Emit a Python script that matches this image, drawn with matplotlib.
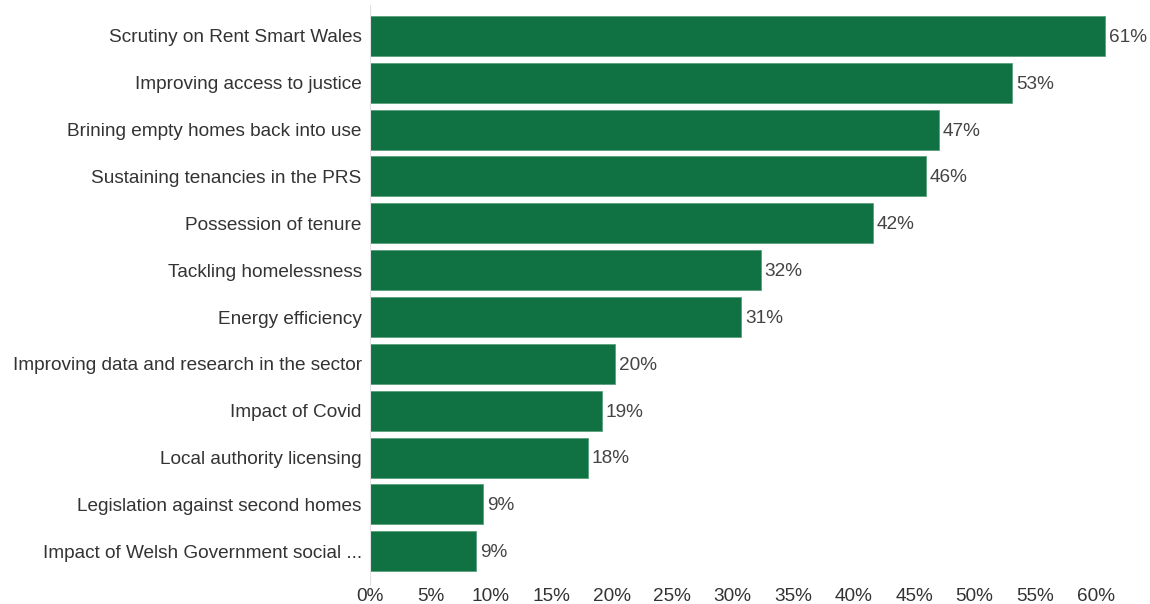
import matplotlib.pyplot as plt
from matplotlib.ticker import FuncFormatter

plt.rcParams['font.family'] = ['Liberation Sans', 'DejaVu Sans']

topics = [
    "Scrutiny on Rent Smart Wales",
    "Improving access to justice",
    "Brining empty homes back into use",
    "Sustaining tenancies in the PRS",
    "Possession of tenure",
    "Tackling homelessness",
    "Energy efficiency",
    "Improving data and research in the sector",
    "Impact of Covid",
    "Local authority licensing",
    "Legislation against second homes",
    "Impact of Welsh Government social ...",
]
share = [60.8, 53.1, 47.05, 46.0, 41.6, 32.3, 30.7, 20.3, 19.2, 18.0, 9.37, 8.8]
shown = ["61%", "53%", "47%", "46%", "42%", "32%", "31%", "20%", "19%", "18%", "9%", "9%"]
xticks = list(range(0, 65, 5))

fig = plt.figure(figsize=(11.5, 6.04), dpi=100)
ax = fig.add_axes([370 / 1150, 1 - 585 / 604, 1 - 370 / 1150, 580 / 604])

ypos = range(len(topics))
ax.barh(ypos, share, height=0.855, color='#107243', edgecolor='#5a9e7a', linewidth=0.6)
for y, v, s in zip(ypos, share, shown):
    ax.text(v + 0.3, y + 0.03, s, va='center', ha='left', fontsize=13.7, color='#444444')

ax.set_xlim(0, 64.5)
ax.set_ylim(11.72, -0.66)
ax.set_yticks(list(ypos))
ax.set_yticklabels(topics)
ax.set_xticks(xticks)
ax.xaxis.set_major_formatter(FuncFormatter(lambda x, p: f"{int(x)}%"))
ax.tick_params(axis='both', length=0, labelsize=13.7, colors='#333333')
ax.tick_params(axis='y', pad=6)
ax.tick_params(axis='x', pad=2.5)

for side in ['top', 'right', 'bottom']:
    ax.spines[side].set_visible(False)
ax.spines['left'].set_color('#e0e0e0')

fig.savefig('out.png', dpi=100)
